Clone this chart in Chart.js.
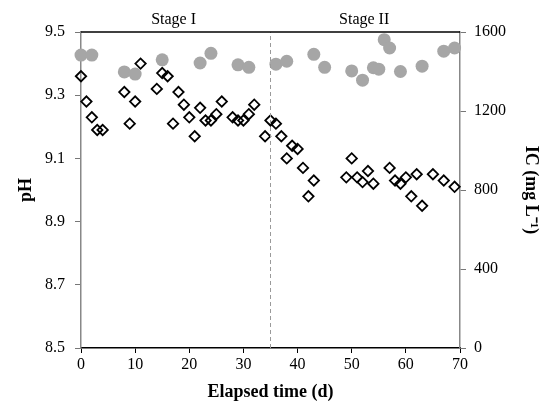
<!DOCTYPE html>
<html>
<head>
<meta charset="utf-8">
<script src="https://cdn.jsdelivr.net/npm/chart.js@4.4.0/dist/chart.umd.min.js"></script>
<style>
  body { margin: 0; background: #fff; }
  #wrap { width: 544px; height: 408px; }
</style>
</head>
<body>
<div id="wrap"><canvas id="myChart"></canvas></div>
<script>
// pH (open diamonds, left axis)
let phDays = [0, 1, 2, 3, 4, 8, 9, 10, 11, 14, 15, 16, 17, 18, 19, 20, 21, 22, 23, 24, 25, 26, 28, 29, 30, 31, 32,
  34, 35, 36, 37, 38, 39, 40, 41, 42, 43, 49, 50, 51, 52, 53, 54, 57, 58, 59, 60, 61, 62, 63, 65, 67, 69]
let phValues = [9.36, 9.28, 9.23, 9.19, 9.19, 9.31, 9.21, 9.28, 9.40, 9.32, 9.37, 9.36, 9.21, 9.31, 9.27, 9.23, 9.17, 9.26, 9.22, 9.22, 9.24, 9.28, 9.23, 9.22, 9.22, 9.24, 9.27,
  9.17, 9.22, 9.21, 9.17, 9.10, 9.14, 9.13, 9.07, 8.98, 9.03, 9.04, 9.10, 9.04, 9.025, 9.06, 9.02, 9.07, 9.03, 9.02, 9.04, 8.98, 9.05, 8.95, 9.05, 9.03, 9.01]

// IC (grey circles, right axis)
let icDays = [0, 2, 8, 10, 15, 22, 24, 29, 31, 36, 38, 43, 45, 50, 52, 54, 55, 56, 57, 59, 63, 67, 69]
let icValues = [1483, 1483, 1398, 1387, 1459, 1443, 1492, 1434, 1421, 1437, 1452, 1487, 1421, 1403, 1356, 1419, 1412, 1561, 1519, 1400, 1427, 1503, 1519]

let dayTicks = [0, 10, 20, 30, 40, 50, 60, 70]
let phTicks = [8.5, 8.7, 8.9, 9.1, 9.3, 9.5]
let icTicks = [0, 400, 800, 1200, 1600]

let stageNames = ['Stage I', 'Stage II']
let stageMid = [17.1, 52.3]
let stageSplit = 35

const serif = '"Liberation Serif", "Times New Roman", serif'

const toPoints = (xs, ys) => xs.map((d, i) => ({ x: d, y: ys[i] }))

const extras = {
  id: 'extras',
  afterDraw(chart) {
    const { ctx, chartArea, scales } = chart
    ctx.save()
    ctx.strokeStyle = '#000'
    ctx.lineWidth = 1.5
    ctx.beginPath()
    ctx.moveTo(chartArea.left, chartArea.top)
    ctx.lineTo(chartArea.right, chartArea.top)
    ctx.stroke()
    ctx.fillStyle = '#000'
    ctx.font = '16px ' + serif
    ctx.textAlign = 'center'
    ctx.textBaseline = 'alphabetic'
    stageNames.forEach((s, i) => {
      ctx.fillText(s, scales.x.getPixelForValue(stageMid[i]), chartArea.top - 8)
    })
    ctx.restore()
  },
}

const config = {
  type: 'scatter',
  data: {
    datasets: [
      {
        label: 'split',
        data: [{ x: stageSplit, y: 8.5 }, { x: stageSplit, y: 9.5 }],
        yAxisID: 'y',
        showLine: true,
        borderColor: '#9a9a9a',
        borderWidth: 1,
        borderDash: [4, 3],
        pointRadius: 0,
      },
      {
        label: 'IC',
        data: toPoints(icDays, icValues),
        yAxisID: 'y1',
        clip: false,
        pointStyle: 'circle',
        pointRadius: 6.5,
        backgroundColor: '#a6a6a6',
        borderWidth: 0,
      },
      {
        label: 'pH',
        data: toPoints(phDays, phValues),
        yAxisID: 'y',
        clip: false,
        pointStyle: 'rectRot',
        pointRadius: 5.2,
        backgroundColor: 'rgba(0,0,0,0)',
        borderColor: '#000',
        borderWidth: 1.8,
      },
    ],
  },
  options: {
    responsive: true,
    maintainAspectRatio: false,
    animation: false,
    layout: { padding: { top: 32, left: 0, right: 0, bottom: 0 } },
    plugins: { legend: { display: false }, tooltip: { enabled: false } },
    scales: {
      x: {
        type: 'linear',
        min: 0,
        max: 70,
        afterBuildTicks: (s) => { s.ticks = dayTicks.map((v) => ({ value: v })) },
        afterFit: (s) => { s.height = 60 },
        grid: { drawOnChartArea: false, tickLength: 5, tickColor: '#000' },
        border: { color: '#000', width: 1.5 },
        ticks: { color: '#000', font: { family: serif, size: 16 }, padding: 2, maxRotation: 0 },
        title: {
          display: true,
          text: 'Elapsed time (d)',
          color: '#000',
          font: { family: serif, size: 18, weight: 'bold' },
          padding: { top: 0, bottom: 5 },
        },
      },
      y: {
        type: 'linear',
        position: 'left',
        min: 8.5,
        max: 9.5,
        afterBuildTicks: (s) => { s.ticks = phTicks.map((v) => ({ value: v })) },
        afterFit: (s) => { s.width = 81 },
        grid: { drawOnChartArea: false, tickLength: 6, tickColor: '#777' },
        border: { color: '#888', width: 1.5 },
        ticks: {
          color: '#000',
          font: { family: serif, size: 16 },
          padding: 10,
          callback: (v) => v.toFixed(1),
        },
        title: {
          display: true,
          text: 'pH',
          color: '#000',
          font: { family: serif, size: 18, weight: 'bold' },
          padding: { top: 16, bottom: 0 },
        },
      },
      y1: {
        type: 'linear',
        position: 'right',
        min: 0,
        max: 1600,
        afterBuildTicks: (s) => { s.ticks = icTicks.map((v) => ({ value: v })) },
        afterFit: (s) => { s.width = 84 },
        grid: { drawOnChartArea: false, tickLength: 6, tickColor: '#777' },
        border: { color: '#888', width: 1.5 },
        ticks: {
          color: '#000',
          font: { family: serif, size: 16 },
          padding: 8,
          callback: (v) => String(v),
        },
        title: {
          display: true,
          text: 'IC (mg L\u207B\u00B9)',
          color: '#000',
          font: { family: serif, size: 18, weight: 'bold' },
          padding: { top: 3, bottom: 0 },
        },
      },
    },
  },
  plugins: [extras],
}

var myChart = new Chart(document.getElementById('myChart'), config)
</script>
</body>
</html>
